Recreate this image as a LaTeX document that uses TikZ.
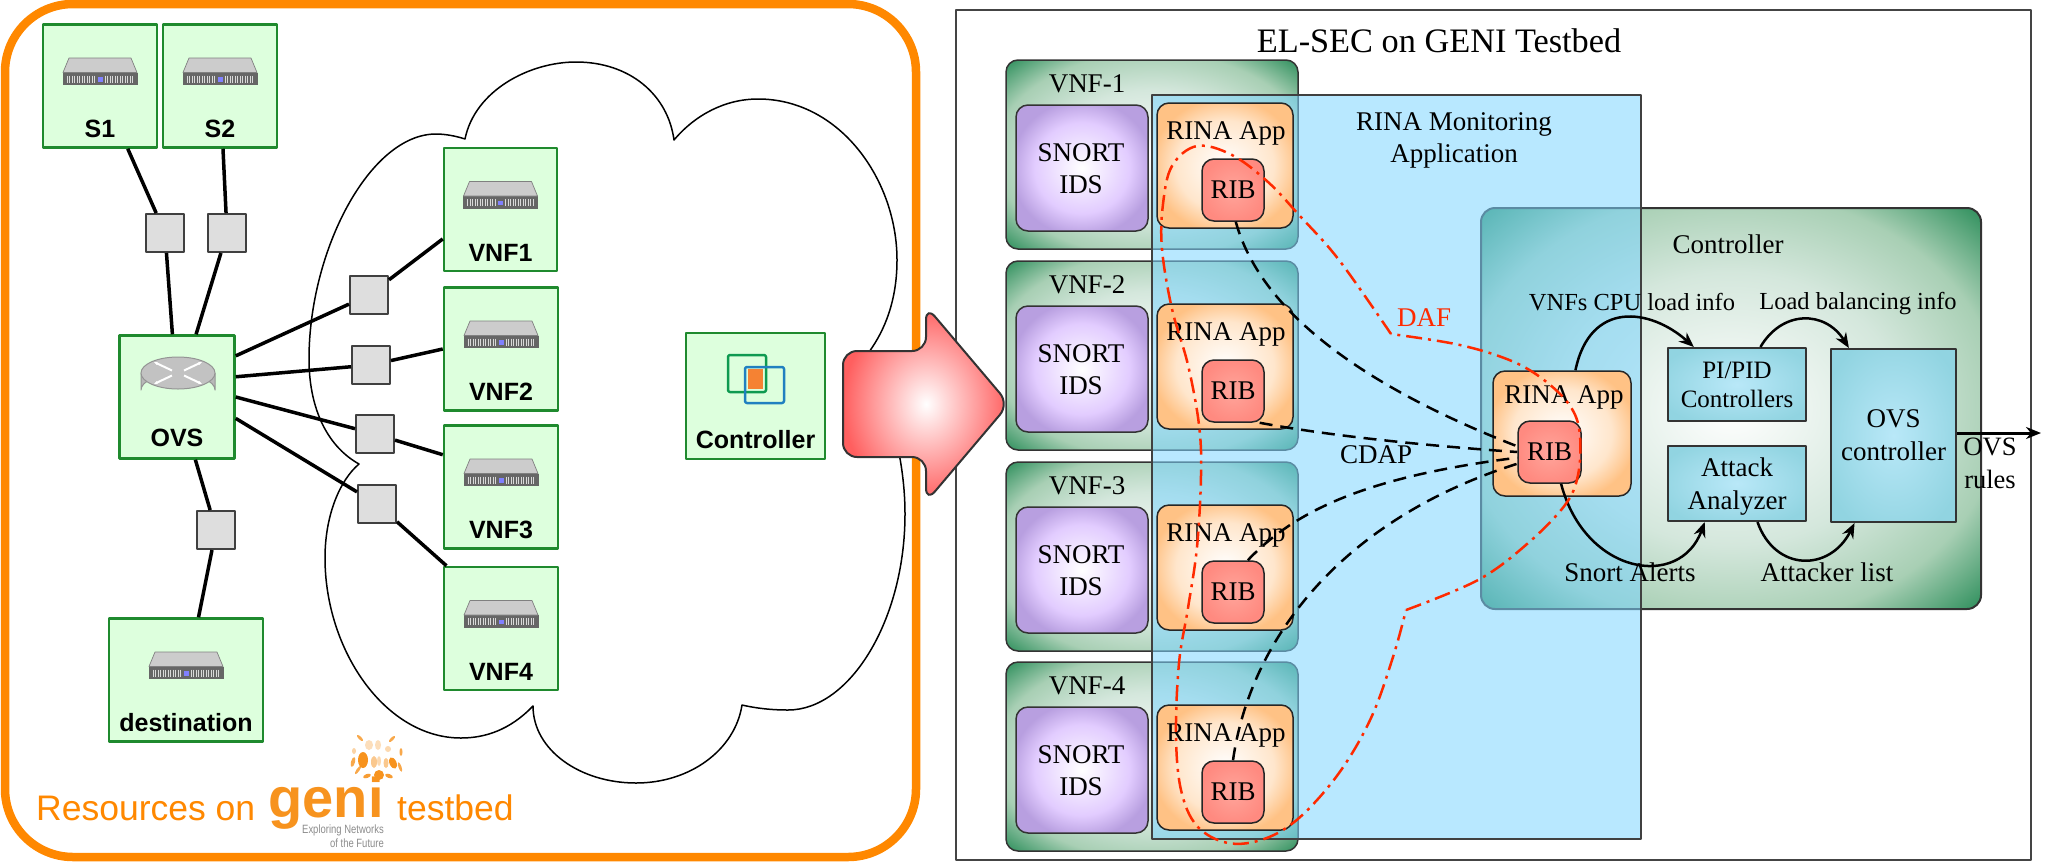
\documentclass[tikz,border=0pt]{standalone}
\usepackage{fontspec}
\setmainfont{Liberation Serif}
\newfontfamily\arialfont{Liberation Sans}
\usetikzlibrary{arrows.meta}
\definecolor{orangeframe}{HTML}{FF8800}
\definecolor{gridgreen}{HTML}{1F8A2E}
\definecolor{gridfill}{HTML}{DDFFDD}
\definecolor{swgray}{HTML}{DEDEDE}
\definecolor{framegray}{HTML}{444444}
\definecolor{dafred}{HTML}{FF2A00}
\definecolor{genilogo}{HTML}{F7931E}
\definecolor{greenmid}{HTML}{D4E7DC}
\definecolor{greenrim}{HTML}{A8CFB4}
\definecolor{greenend}{HTML}{32915F}
\definecolor{purplemid}{HTML}{E2CCFF}
\definecolor{purpleend}{HTML}{B89FE0}
\definecolor{orangemid}{HTML}{FFE6CC}
\definecolor{orangeend}{HTML}{FFC285}
\definecolor{ribmid}{HTML}{FFA59B}
\definecolor{ribend}{HTML}{FF8A80}
\definecolor{redend}{HTML}{FF5F5F}
\definecolor{bluemid}{HTML}{B9E8F8}
\definecolor{blueend}{HTML}{91D4E1}
\definecolor{monblue}{HTML}{7DD5FF}
\definecolor{icongreen}{HTML}{0E9A50}
\definecolor{iconblue}{HTML}{2080C0}
\definecolor{iconorange}{HTML}{F58233}
\pgfdeclareradialshading{glowgreen}{\pgfpoint{0bp}{0bp}}{color(0bp)=(white);color(17bp)=(greenmid);color(27bp)=(greenrim);color(35bp)=(greenend);color(36bp)=(greenend)}
\pgfdeclareradialshading{glowpurple}{\pgfpoint{0bp}{0bp}}{color(0bp)=(white);color(18bp)=(purplemid);color(27bp)=(purpleend);color(36bp)=(purpleend)}
\pgfdeclareradialshading{gloworange}{\pgfpoint{0bp}{0bp}}{color(0bp)=(white);color(18bp)=(orangemid);color(27bp)=(orangeend);color(36bp)=(orangeend)}
\pgfdeclareradialshading{glowrib}{\pgfpoint{0bp}{0bp}}{color(0bp)=(ribmid);color(26bp)=(ribend);color(36bp)=(ribend)}
\pgfdeclareradialshading{glowred}{\pgfpoint{0bp}{0bp}}{color(0bp)=(white);color(25bp)=(redend);color(36bp)=(redend)}
\pgfdeclareradialshading{glowblue}{\pgfpoint{0bp}{0bp}}{color(0bp)=(bluemid);color(30bp)=(blueend);color(36bp)=(blueend)}
\tikzset{
	srvbox/.style={draw=gridgreen, fill=gridfill, line width=2.5pt, minimum height=123pt, inner sep=0pt},
	srvtext/.style={font=\arialfont\bfseries\fontsize{25}{30}\selectfont, inner sep=0pt},
	swbox/.style={draw=black!75, fill=swgray, line width=2pt, minimum width=38pt, minimum height=38pt, inner sep=0pt},
	link/.style={line width=3.5pt},
	vnfbox/.style={draw=black!80, line width=1.5pt, rounded corners=12pt, shading=glowgreen, minimum width=292pt, minimum height=189pt, inner sep=0pt},
	snortbox/.style={draw=black!80, line width=1.5pt, rounded corners=12pt, shading=glowpurple, minimum width=132pt, minimum height=126pt, align=center, inner sep=0pt},
	appbox/.style={draw=black!85, line width=1.5pt, rounded corners=12pt, shading=gloworange, minimum width=136pt, minimum height=125pt, inner sep=0pt},
	ribbox/.style={draw=black!85, line width=1.5pt, rounded corners=12pt, shading=glowrib, minimum width=62pt, minimum height=62pt, font=\fontsize{27}{32}\selectfont, inner sep=0pt},
	ctlbox/.style={draw=black!80, line width=2pt, shading=glowblue, align=center, inner sep=0pt},
	txt/.style={font=\fontsize{27}{32}\selectfont, align=center, inner sep=0pt},
	smalltxt/.style={font=\fontsize{24.5}{29}\selectfont, align=center, inner sep=0pt},
	flow/.style={line width=2.5pt, -{Stealth[open, length=15pt, width=12pt]}},
	cdap/.style={line width=2.5pt, dash pattern=on 13pt off 8pt},
	daf/.style={draw=dafred, line width=2.5pt, dash pattern=on 16pt off 6pt on 3pt off 6pt},
	server/.pic={
		\fill[black!60] (-37.5,1) rectangle (37.5,13.5);
		\fill[black!20, draw=black!50, line width=.7pt] (-31,-13.5)--(31,-13.5)--(37,1)--(-37,1)--cycle;
		\foreach \i in {-33,-30.5,...,-4}{\draw[black!15, line width=1pt] (\i,4)--(\i,11);}
		\foreach \i in {5,7.5,...,34}{\draw[black!15, line width=1pt] (\i,4)--(\i,11);}
		\fill[blue!50!white] (-2.5,5.5) rectangle (2.5,10);
	},
}
\begin{document}
\begin{tikzpicture}[x=1pt, y=-1pt, line join=round]
	\useasboundingbox (0,0) rectangle (2066,863);
	% left panel
	\draw[orangeframe, line width=8.5pt, fill=white, rounded corners=68pt] (5,4) rectangle (916,857);
	\draw[line width=1.5pt] (465,139) .. controls (475,90) and (530,62) .. (576,62) .. controls (630,62) and (668,95) .. (674,140)
		.. controls (695,115) and (725,99) .. (758,99) .. controls (840,99) and (897,180) .. (897,260) .. controls (897,300) and (885,330) .. (869,352) -- (885,400)
		.. controls (895,430) and (905,470) .. (905,514) .. controls (905,620) and (850,710) .. (788,710) .. controls (770,710) and (755,708) .. (742,705)
		.. controls (735,750) and (690,783) .. (636,783) .. controls (580,783) and (533,750) .. (533,706)
		.. controls (510,730) and (485,738) .. (461,738) .. controls (385,738) and (325,650) .. (325,558) .. controls (325,515) and (340,480) .. (359,464)
		.. controls (325,445) and (309,405) .. (309,359) .. controls (309,250) and (370,134) .. (436,134) .. controls (445,134) and (456,136) .. cycle;
	\foreach \nm/\cx/\cy/\bw/\lab in {nSa/100/86/114/S1, nSb/220/86/114/S2, nVa/500.5/209.5/113/VNF1, nVb/501/349/114/VNF2, nVc/501/487/114/VNF3, nVd/501/628.5/114/VNF4, nDst/186/680/154/destination}{
		\node[srvbox, minimum width=\bw] (\nm) at (\cx,\cy) {};
		\pic at (\cx,\cy-14.5) {server};
		\node[srvtext] (\nm txt) at (\cx,\cy+43) {\lab};
	}
	\node[srvbox, minimum width=115pt] (nOVS) at (177,397) {};
	\node[srvtext] (nOVStxt) at (177,438) {OVS};
	\fill[black!28, draw=black!42, line width=1pt] (141,373) -- (141,390) arc[start angle=180, end angle=360, x radius=37, y radius=16] -- (215,373) -- cycle;
	\fill[black!24, draw=black!42, line width=1pt] (178,373) ellipse[x radius=37, y radius=16];
	\foreach \sx/\sy in {1/1,1/-1,-1/1,-1/-1}{\draw[white, line width=2pt, -{Stealth[length=4pt]}] (178+\sx*6,373+\sy*2.5) -- (178+\sx*24,373+\sy*11);}
	\node[srvbox, minimum width=139pt, minimum height=126pt] (nCtl) at (755.5,396) {};
	\node[srvtext] (nCtltxt) at (755.5,440) {Controller};
	\draw[draw=icongreen, line width=2.5pt, rounded corners=2pt] (728,355) rectangle (766,392);
	\fill[iconorange] (748,369) rectangle (763,389);
	\draw[draw=iconblue, line width=2.5pt, rounded corners=2pt] (745,367) rectangle (784,403);
	\foreach \nm/\cx/\cy in {swSa/165/233, swSb/227/233, swVa/369/295, swVb/371/365, swVc/375/434, swVd/377/504, swDst/216/530}{
		\node[swbox] (\nm) at (\cx,\cy) {};
	}
	\draw[link] (nSa)--(swSa);
	\draw[link] (swSa)--(nOVS);
	\draw[link] (nSb)--(swSb);
	\draw[link] (swSb)--(nOVS);
	\draw[link] (nOVS.35)--(swVa);
	\draw[link] (nOVS.19)--(swVb);
	\draw[link] (nOVS.0)--(swVc);
	\draw[link] (nOVS.-20)--(swVd);
	\draw[link] (swVa)--(nVa.207);
	\draw[link] (swVb)--(nVb.west);
	\draw[link] (swVc)--(nVc.151);
	\draw[link] (swVd)--(nVd.131);
	\draw[link] (nOVS)--(swDst);
	\draw[link] (swDst)--(nDst);
	% resources caption
	\node[anchor=base west, inner sep=0pt, text=orangeframe, font=\arialfont\fontsize{35.5}{40}\selectfont] (capa) at (36,820) {Resources on};
	\node[anchor=base west, inner sep=0pt, text=orangeframe, font=\arialfont\fontsize{35.5}{40}\selectfont] (capb) at (397,820) {testbed};
	\node[anchor=base, inner sep=0pt, text=genilogo, font=\arialfont\bfseries\fontsize{56}{60}\selectfont] (geni) at (326,817) {geni};
	\node[anchor=east, inner sep=0pt, xscale=.79, text=black!45, font=\arialfont\fontsize{12}{14}\selectfont] (genia) at (384,830) {Exploring Networks};
	\node[anchor=east, inner sep=0pt, xscale=.79, text=black!45, font=\arialfont\fontsize{12}{14}\selectfont] (genib) at (384,843) {of the Future};
	\foreach \gx/\gy/\gr/\gs/\grot/\gop in {363/760/5/8/0/1, 379/775/5/5/0/1, 393/763/3.5/6/25/1, 374/762/3/6/0/.5, 386/763/2.5/5/0/.5, 379/761/2/5/0/.35, 369/745/4/5/0/.3, 378/745/3/5/0/.3, 388/749/3/3/0/.35, 360/738/1.5/4/45/.8, 392/739/1.5/4/-45/.8, 354/751/2/3/0/.4, 401/752/1.5/4/0/.8, 353/762/2/5/-15/.8, 400/767/1.5/5/20/.8, 358/770/1.5/5/-35/.8, 367/776/4/2/20/.9, 389/776/4/2/-20/.9}{
		\fill[genilogo, opacity=\gop, rotate around={\grot:(\gx,\gy)}] (\gx,\gy) ellipse[x radius=\gr, y radius=\gs];
	}
	% right panel
	\draw[framegray, line width=2pt] (956,10) rectangle (2031,860);
	\node[font=\fontsize{34.3}{40}\selectfont, inner sep=0pt] (titleNode) at (1439,41) {EL-SEC on GENI Testbed};
	\foreach \i/\ty in {1/60, 2/261, 3/462, 4/662}{
		\node[vnfbox] (vnf\i) at (1152,\ty+94.5) {};
		\node[snortbox] (snort\i) at (1082,\ty+108) {};
		\node[txt] (snortTxt\i) at (1081,\ty+109) {SNORT\\IDS};
	}
	\node[draw=black!80, line width=2pt, rounded corners=14pt, shading=glowgreen, minimum width=500pt, minimum height=401pt, inner sep=0pt] (ctlGroup) at (1731,408.5) {};
	\fill[monblue, fill opacity=.55] (1152,95) rectangle (1641,839);
	\draw[draw=black!75, line width=2pt] (1152,95) rectangle (1641,839);
	\node[txt] (monTxt) at (1454,140) {RINA Monitoring\\[0pt]Application};
	\foreach \i/\ty/\lab in {1/60/VNF-1, 2/261/VNF-2, 3/462/VNF-3, 4/662/VNF-4}{
		\node[txt] (vnfTxt\i) at (1087,\ty+24) {\lab};
		\node[appbox] (app\i) at (1225,\ty+105.5) {};
		\node[txt] (appTxt\i) at (1226,\ty+73) {RINA App};
		\node[ribbox] (rib\i) at (1233,\ty+130) {RIB};
	}
	\node[appbox, minimum width=138pt] (appCtl) at (1562,433.5) {};
	\node[txt] (appCtlTxt) at (1564,397) {RINA App};
	\node[ribbox, minimum width=63pt] (ribCtl) at (1549.5,452) {RIB};
	\node[txt] (ctlTxt) at (1728,244) {Controller};
	\node[ctlbox, minimum width=138pt, minimum height=73pt, font=\fontsize{25}{29}\selectfont] (piBox) at (1737,384.5) {PI/PID\\Controllers};
	\node[ctlbox, minimum width=138pt, minimum height=75pt] (attBox) at (1737,483.5) {};
	\node[txt, font=\fontsize{27}{33}\selectfont] (attTxt) at (1737,487) {Attack\\Analyzer};
	\node[ctlbox, minimum width=125pt, minimum height=173pt, font=\fontsize{27}{33}\selectfont] (ovsBox) at (1893.5,435.5) {OVS\\controller};
	\node[smalltxt] (cpuTxt) at (1632,302) {VNFs CPU load info};
	\node[smalltxt] (loadTxt) at (1858,304) {Load balancing info};
	\node[txt] (alertTxt) at (1630,572) {Snort Alerts};
	\node[txt] (listTxt) at (1827,572) {Attacker list};
	\node[txt, font=\fontsize{26.5}{33}\selectfont] (rulesTxt) at (1990,463) {OVS\\rules};
	\node[txt] (cdapTxt) at (1376,455) {CDAP};
	\node[txt, text=dafred] (dafTxt) at (1424,318) {DAF};
	\draw[flow] (appCtl.78) .. controls (1590,300) and (1650,308) .. (piBox.139);
	\draw[flow] (piBox.58) .. controls (1782,310) and (1825,310) .. (ovsBox.117);
	\draw[flow] (ribCtl.-70) .. controls (1585,575) and (1680,590) .. (attBox.-130);
	\draw[flow] (attBox.-62) .. controls (1775,572) and (1830,572) .. (ovsBox.-114);
	\coordinate (rulesEnd) at (2041,433);
	\draw[line width=3pt, -{Stealth[open, length=15pt, width=12pt]}] (ovsBox.east |- rulesEnd) -- (rulesEnd);
	\draw[cdap] (rib1.-85) .. controls (1260,310) and (1360,385) .. (ribCtl.170);
	\draw[cdap] (rib2.-50) .. controls (1330,436) and (1430,446) .. (ribCtl.180);
	\draw[cdap] (rib3.65) .. controls (1300,505) and (1380,475) .. (ribCtl.190);
	\draw[cdap] (rib4.north) .. controls (1250,640) and (1340,520) .. (ribCtl.200);
	\draw[daf] plot[smooth, tension=.6] coordinates {(1391,334) (1339,260) (1299,215) (1268,182) (1232,155) (1197,146) (1172,166) (1163,204) (1162,249) (1172,309) (1188,365) (1199,425) (1201,475) (1197,547) (1188,608) (1179,663) (1176,735) (1181,790) (1197,826) (1228,843) (1264,839) (1299,818) (1339,773) (1371,718) (1393,657) (1406,610)};
	\draw[daf] plot[smooth, tension=.6] coordinates {(1406,610) (1478,580) (1527,544) (1565,505) (1578,475) (1580,436) (1572,409) (1549,384) (1514,362) (1460,345) (1391,334)};
	% arrow between the panels
	\draw[draw=black!80, line width=2pt, rounded corners=14pt, shading=glowred] (843,351) -- (926,351) -- (926,306) -- (1009,404) -- (926,502) -- (926,457) -- (843,457) -- cycle;
\end{tikzpicture}
\end{document}
